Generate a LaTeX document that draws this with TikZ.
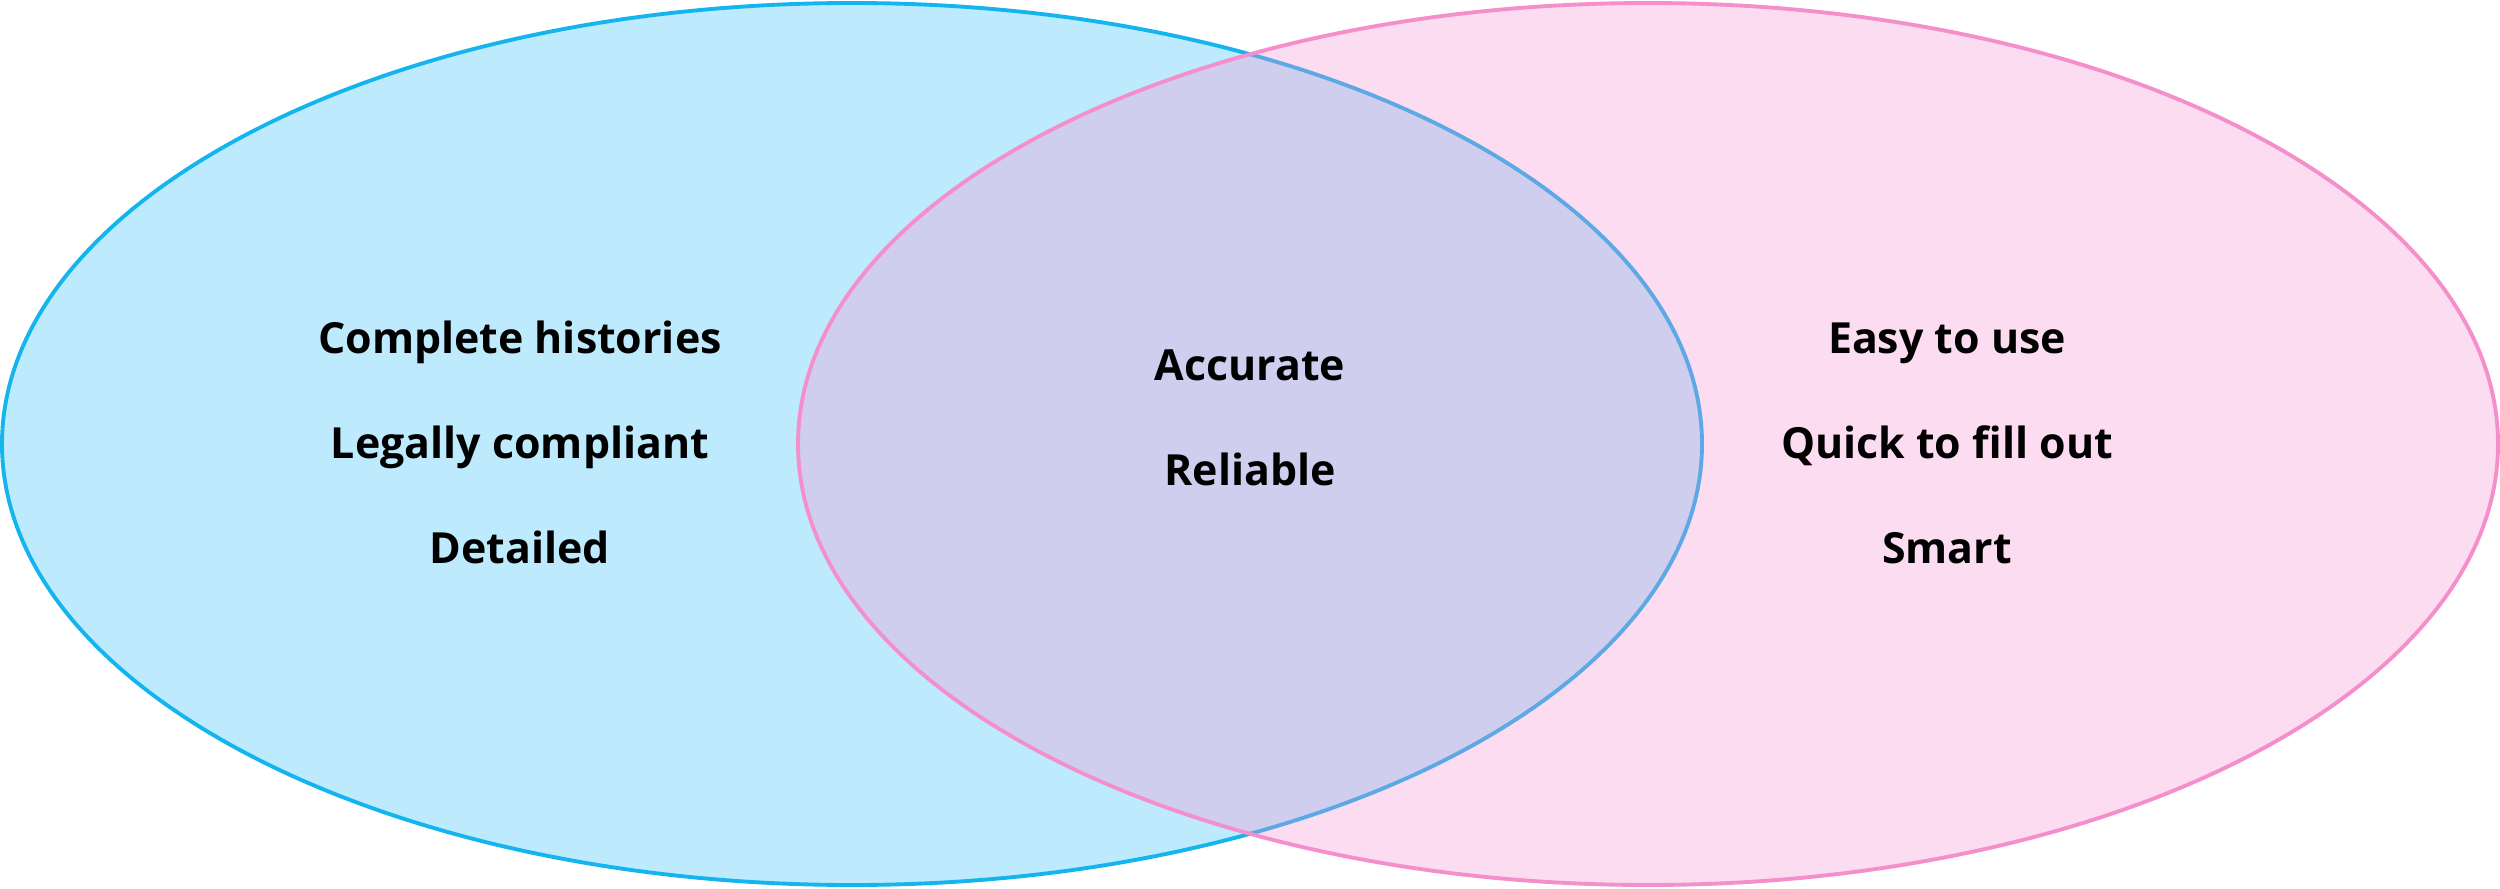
\documentclass[tikz,border=0pt]{standalone}
\usepackage{fontspec}
\setmainfont{Open Sans}
\usepackage{xcolor}
\usepackage{tikz}
\usetikzlibrary{shapes.geometric,positioning}

\definecolor{blueline}{HTML}{14B4EF}
\definecolor{bluefill}{HTML}{BDEBFD}
\definecolor{pinkline}{HTML}{F58FCB}
\definecolor{pinkfill}{HTML}{F792D0}

\begin{document}
\begin{tikzpicture}[item/.style = {font=\fontsize{12.2}{14}\selectfont\bfseries, inner sep=0pt, anchor=base}]
				\tikzset{set/.style={draw,ellipse,line width=1.1pt,minimum width=17cm,minimum height=8.82cm,inner sep=0pt}}

				\useasboundingbox (0,0) rectangle (25,8.88);

				% Sets
				\node[set, draw=blueline, fill=bluefill] (left) at (8.52,4.44) {};
				\node[set, draw=pinkline, fill=pinkfill, fill opacity=0.32, draw opacity=1] (right) at (16.48,4.44) {};

				% Left only
				\node[item] (histories) at (5.20,5.35) {Complete histories};
				\node[item] (compliant) at (5.20,4.30) {Legally compliant};
				\node[item] (detailed) at (5.20,3.25) {Detailed};

				% Both
				\node[item] (accurate) at (12.50,5.08) {Accurate};
				\node[item] (reliable) at (12.50,4.03) {Reliable};

				% Right only
				\node[item] (easy) at (19.47,5.35) {Easy to use};
				\node[item] (quick) at (19.47,4.30) {Quick to fill out};
				\node[item] (smart) at (19.47,3.25) {Smart};

			\end{tikzpicture}
\end{document}
